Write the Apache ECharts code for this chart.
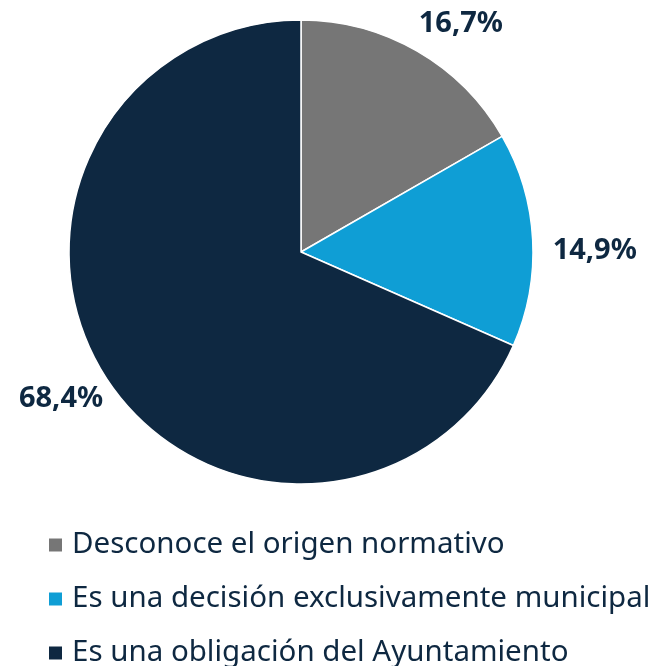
<!DOCTYPE html>
<html>
<head>
<meta charset="utf-8">
<script src="https://cdn.jsdelivr.net/npm/echarts@6/dist/echarts.min.js"></script>
<style>html,body{margin:0;padding:0;background:#fff}#c{width:659px;height:666px}</style>
</head>
<body>
<div id="c"></div>
<script>
const categories = ['Desconoce el origen normativo', 'Es una decisión exclusivamente municipal', 'Es una obligación del Ayuntamiento'];
const values = [16.7, 14.9, 68.4];
const colors = ['#767676', '#0f9ed5', '#0e2841'];
const labelShift = [[-11, -14], [0, 12], [14, 12]];

const chart = echarts.init(document.getElementById('c'), null, {renderer: 'canvas'});
chart.setOption({
  animation: false,
  color: colors,
  legend: {
    orient: 'vertical',
    left: 47,
    top: 530,
    height: 220,
    padding: 0,
    icon: 'rect',
    itemWidth: 15,
    itemHeight: 15,
    itemGap: 24,
    data: categories,
    textStyle: {fontFamily: 'Noto Sans', fontSize: 29.5, color: '#0e2841', padding: [0, 0, 0, 4]}
  },
  series: [{
    type: 'pie',
    center: [301, 252],
    radius: 232,
    startAngle: 90,
    clockwise: true,
    itemStyle: {borderColor: '#ffffff', borderWidth: 1.5},
    label: {
      show: true,
      position: 'outside',
      overflow: 'none',
      formatter: p => p.value.toFixed(1).replace('.', ',') + '%',
      fontFamily: 'Noto Sans',
      fontWeight: 'bold',
      fontSize: 29,
      color: '#0e2841'
    },
    labelLine: {show: false, length: 15, length2: 0},
    labelLayout: p => ({dx: labelShift[p.dataIndex][0], dy: labelShift[p.dataIndex][1]}),
    data: categories.map((c, i) => ({name: c, value: values[i]}))
  }]
});
</script>
</body>
</html>
